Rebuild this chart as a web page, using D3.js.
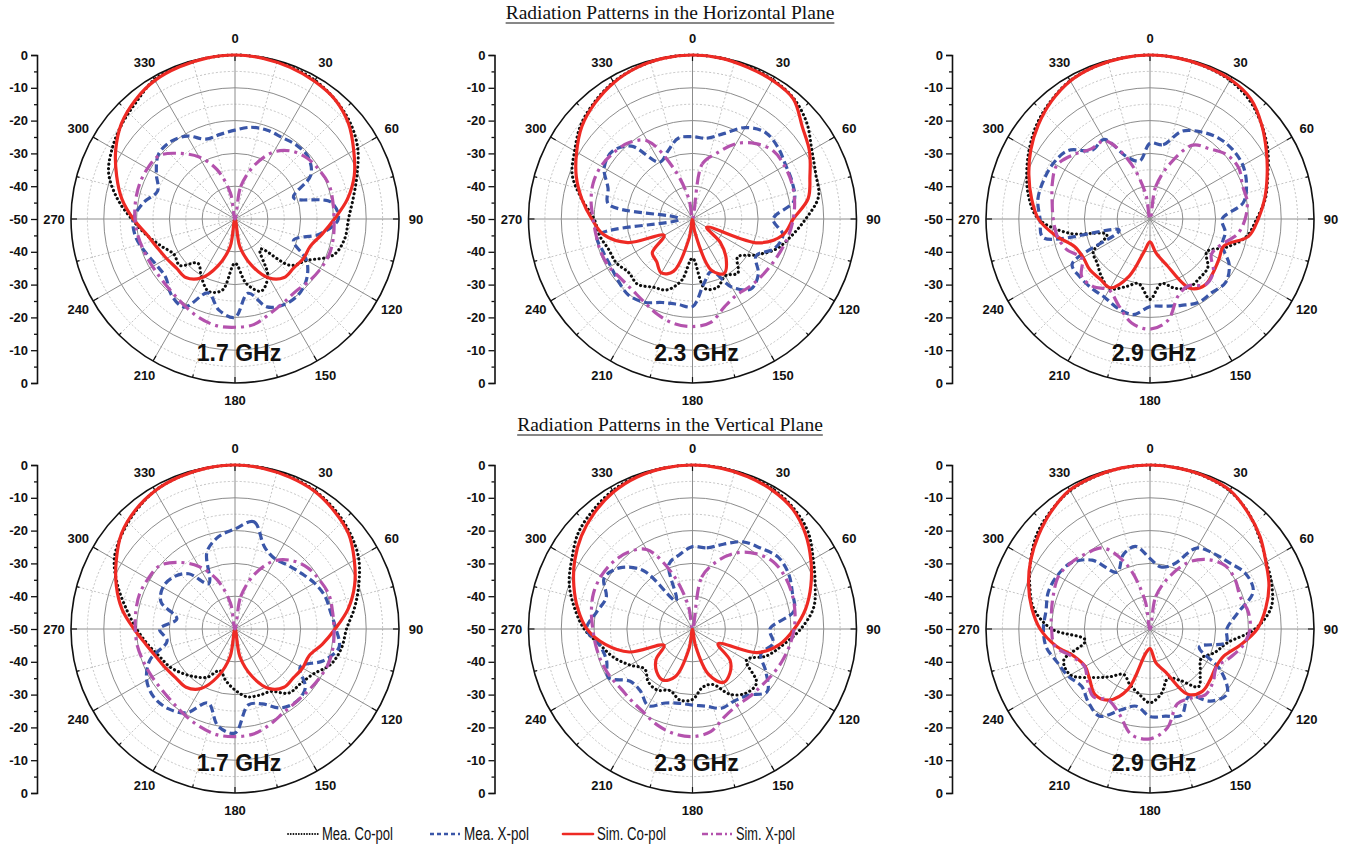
<!DOCTYPE html>
<html>
<head>
<meta charset="utf-8">
<script src="https://cdn.jsdelivr.net/npm/d3@7"></script>
<style>
  body { margin: 0; background: #fff; }
  svg text { font-family: Arial, "Liberation Sans", sans-serif; }
</style>
</head>
<body>
<svg id="chart" width="1351" height="849"></svg>
<script>
const angles = d3.range(0, 360, 10);

// ---- Horizontal plane ----
const h17MeaCo = [0,-0.2,-0.6,-1.2,-2.5,-4.2,-6.8,-10.4,-13.4,-15.4,-16,-18,-24.7,-28,-38,-30,-26.6,-30,-36.5,-28,-26.5,-29.5,-32.4,-28,-28.5,-26,-22.5,-18.5,-13.5,-9,-6.8,-5,-3.3,-0.9,-0.5,-0.2];
const h17MeaX  = [-22.9,-21.6,-21.2,-21.3,-20.7,-20.8,-23.3,-31,-20.3,-18.5,-23.7,-31,-24.8,-21.5,-19.9,-19.9,-21.5,-27,-20,-21.8,-26,-19,-19.8,-22.4,-22.2,-20.8,-19.2,-19,-21.6,-24.9,-22.3,-19.5,-19.3,-20.8,-24.1,-23.8];
const h17SimCo = [0,-0.3,-0.8,-1.5,-2.5,-4.8,-8.2,-11.3,-15.2,-19.7,-23.1,-25.6,-25.9,-26.7,-26.7,-29.2,-34.8,-41.4,-50,-41.4,-34.8,-29.2,-26.7,-26.7,-25.9,-24.7,-22.7,-19,-15,-11.6,-8,-4.8,-2.7,-1.2,-0.6,-0.2];
const h17SimX  = [-50,-40,-32.5,-26.4,-23,-21.2,-20.3,-19.5,-19.7,-19.8,-19.5,-19.3,-19.8,-20.5,-21.2,-20.5,-19.2,-17.3,-17,-17,-18,-19.4,-20.5,-21,-21,-20.6,-20,-19.5,-19.2,-19,-19.2,-19.9,-23.9,-28.2,-34,-42];

const h23MeaCo = [0,-0.2,-0.5,-1,-2,-4.5,-8,-10,-11,-15.5,-19.5,-23,-28,-32,-28.5,-30,-27.8,-28.5,-38,-31,-27,-26,-24,-24.6,-23.2,-22.8,-21.2,-20,-15.8,-11,-8.5,-5.5,-3.5,-1.8,-0.8,-0.2];
const h23MeaX  = [-24.9,-25,-22.3,-17.8,-15.5,-16,-17.2,-17.6,-18.6,-25.4,-22,-23.5,-27.6,-23.8,-22.2,-26,-33,-30,-23.3,-23.6,-22.9,-20.7,-19.7,-20.5,-21.2,-21,-20.6,-46,-24,-22.6,-18.9,-18,-21,-30,-28,-25];
const h23SimCo = [0,-0.2,-0.8,-1.2,-2.2,-6.3,-8.8,-11.9,-14.2,-19.3,-22,-28.7,-45,-39,-34,-30.8,-33.5,-46,-50,-44,-33,-31,-33,-34,-40,-29,-22.5,-19.3,-15.8,-12.3,-9.2,-6,-3.8,-2,-0.8,-0.2];
const h23SimX  = [-50,-33,-28.7,-23.5,-20,-17.8,-17.6,-17.8,-18.4,-19.3,-20.3,-21.4,-22.2,-22.7,-23,-23.2,-21.5,-18,-17.2,-17.6,-19,-20.7,-21.6,-21.6,-20.7,-20.3,-20.2,-19.7,-18.6,-17.8,-17.8,-18.6,-19.7,-22.5,-34,-44];

const h29MeaCo = [0,-0.2,-0.6,-1.2,-2.8,-5.5,-8.5,-11.8,-14.3,-17.5,-20,-25,-30,-27,-26.5,-26,-27.5,-30,-25.5,-30,-28,-25.5,-27,-29,-30,-36,-25,-16,-12.5,-10,-7.5,-5,-3,-1.3,-0.6,-0.2];
const h29MeaX  = [-26.9,-27,-21.5,-19.3,-17.7,-17.1,-17.3,-18.7,-21.1,-28,-26.7,-26.6,-22.1,-19.9,-20.7,-20.6,-22,-23,-23.3,-20.4,-21.1,-22.4,-22.4,-22.3,-22.6,-40,-17,-16.5,-15.3,-15.5,-16,-17.5,-22.6,-22,-30,-32];
const h29SimCo = [0,-0.2,-0.5,-0.9,-2.2,-5.5,-9,-12,-14.5,-17,-19.5,-26,-25.7,-24.8,-23.8,-25.6,-35,-39.5,-43,-40,-31.5,-25.8,-26.2,-26,-26.5,-25.5,-20.8,-16,-13.3,-10.7,-8,-5.5,-3.2,-1.4,-0.6,-0.2];
const h29SimX  = [-50,-40,-32,-24,-22,-19.5,-18.8,-20,-19.9,-21,-23,-27,-28.4,-24.8,-23.8,-26.5,-25,-18.6,-16.4,-17.8,-22,-25,-23.1,-22.8,-26,-22.9,-21.2,-20.5,-19.7,-18.3,-17.2,-19.5,-22.1,-22.5,-31,-42];

// ---- Vertical plane ----
const v17MeaCo = [0,-0.2,-0.6,-1.3,-2.6,-4.3,-6.5,-9.8,-13,-16,-17,-18.8,-22.5,-24,-24.5,-28,-28.5,-29,-31.4,-34,-36.5,-33,-31,-29,-27,-25.5,-23,-20,-16.5,-12,-7.5,-5,-3,-1.3,-0.6,-0.2];
const v17MeaX  = [-19.5,-16.8,-23.5,-25.4,-24.7,-23.6,-22,-20.8,-20.4,-19.2,-17.8,-21.5,-27,-22,-21,-22.2,-25.7,-26.5,-18.3,-20,-26,-20.5,-18.3,-17.7,-18.9,-22.4,-29,-27,-32,-26,-24.6,-25.4,-28,-34,-25,-21.4];
const v17SimCo = [0,-0.3,-0.8,-1.5,-3,-4.8,-8,-11.2,-15,-19.5,-23,-26,-26.2,-26.8,-26.8,-29,-34.5,-41.5,-50,-41.5,-34.5,-29,-26.8,-26.6,-25.8,-24.6,-22.5,-19.2,-15,-11.5,-8.2,-4.8,-2.7,-1.3,-0.6,-0.2];
const v17SimX  = [-50,-40,-32,-26,-22.8,-21,-20.2,-19.5,-19.8,-19.8,-19.6,-19.6,-20.2,-20.8,-21,-20.5,-19,-17.5,-17.2,-17.3,-18.4,-19.6,-20.6,-21,-20.8,-20.4,-19.8,-19.6,-19.3,-19,-19.4,-20,-23.5,-28,-34,-42];

const v23MeaCo = [0,-0.1,-0.4,-0.8,-2,-4,-7.5,-10.2,-12.5,-17,-22,-26,-31,-24.5,-24.5,-27,-32,-32,-28.5,-28,-30,-28.5,-29,-31,-28,-24.5,-21.5,-17,-13.5,-10,-7.5,-4.5,-2.8,-1.3,-0.5,-0.2];
const v23MeaX  = [-24.9,-24.9,-22.5,-19.3,-17.8,-15.9,-16.2,-17.6,-18.6,-26.4,-25,-27.8,-24.2,-20.3,-23.6,-24.6,-24.3,-26.1,-26.8,-27,-26,-23,-25.3,-25.2,-20.4,-22.1,-21.3,-17.7,-20.3,-22,-18.9,-21,-26.8,-40,-29,-27];
const v23SimCo = [0,-0.2,-0.6,-1.2,-2.4,-5,-8.3,-11.6,-15,-19,-23,-29,-41,-35,-32.3,-31.2,-35,-45,-50,-44,-34.5,-32,-33,-35.5,-40,-29.5,-23,-17.8,-14.5,-11.5,-8.5,-5.8,-3.6,-1.8,-0.7,-0.2];
const v23SimX  = [-50,-34,-28,-23.2,-20,-18,-17.6,-17.8,-18.3,-19,-20,-21,-22,-22.8,-23,-23,-21.5,-18.2,-17.2,-17.6,-18.8,-20.5,-21.3,-21.6,-21,-20.5,-20.1,-19.6,-18.7,-17.9,-17.8,-18.3,-19.5,-22,-32,-43];

const v29MeaCo = [0,-0.2,-0.6,-1.4,-3.5,-6.5,-9,-10.5,-12.5,-18,-26,-29,-32,-30,-27,-32,-34,-30,-27.5,-30,-32,-34,-31,-27,-22,-22,-30,-20,-14,-11,-8,-5,-3,-1.3,-0.6,-0.2];
const v29MeaX  = [-28.5,-30.8,-29,-21.5,-19.9,-18.5,-16.3,-16.5,-23,-26.6,-26.4,-34,-25.3,-19.3,-21.3,-26.3,-22,-23,-23.3,-26.1,-23.7,-19.3,-20.8,-22.8,-21.2,-20,-17.9,-17.5,-17.8,-17,-17.4,-18.6,-22.6,-30,-26,-24.4];
const v29SimCo = [0,-0.2,-0.5,-1.2,-3.6,-6.2,-9.2,-11.4,-14.2,-17.3,-22,-26,-26.8,-26,-25.2,-27,-36,-39.5,-44,-42.5,-30.5,-25,-23.9,-26,-27.2,-25.5,-20.8,-16.5,-13.4,-10.6,-8,-5.6,-3.2,-1.1,-0.5,-0.1];
const v29SimX  = [-50,-40,-33.2,-26.5,-22.4,-20,-20,-20.8,-19.6,-19.5,-21.2,-24.2,-26.6,-24.9,-23.8,-25.6,-25.7,-19.4,-16.5,-17.3,-22.5,-24.9,-23.1,-25.2,-27,-25,-20.5,-20,-19.5,-18.7,-17.8,-18.6,-19.9,-21.5,-29,-41];

const freqLabels = ["1.7 GHz", "2.3 GHz", "2.9 GHz"];
const planeTitles = ["Radiation Patterns in the Horizontal Plane", "Radiation Patterns in the Vertical Plane"];
const angleTicks = d3.range(0, 360, 30);
const dbRings = [-40, -30, -20, -10];
const dbHalfRings = [-45, -35, -25, -15, -5];
const seriesNames = ["Mea. Co-pol", "Mea. X-pol", "Sim. Co-pol", "Sim. X-pol"];

const rows = [
  [[h17MeaCo, h17MeaX, h17SimCo, h17SimX], [h23MeaCo, h23MeaX, h23SimCo, h23SimX], [h29MeaCo, h29MeaX, h29SimCo, h29SimX]],
  [[v17MeaCo, v17MeaX, v17SimCo, v17SimX], [v23MeaCo, v23MeaX, v23SimCo, v23SimX], [v29MeaCo, v29MeaX, v29SimCo, v29SimX]]
];

// styles per series, same order as seriesNames
const styles = [
  { color: "#0d0d0d", width: 3.1, dash: "0.1 4.4", cap: "round" },
  { color: "#3a56a8", width: 3.2, dash: "8 4", cap: "butt" },
  { color: "#ee2a24", width: 3.2, dash: null, cap: "round" },
  { color: "#b452ad", width: 3.2, dash: "13 5 3 5", cap: "butt" }
];

const svg = d3.select("#chart");
const R = 164;
const colX = [235, 692.5, 1150];
const rowY = [219, 629];

const r = d3.scaleLinear().domain([-50, 0]).range([0, R]);
const toRad = d => d * Math.PI / 180;

// titles
const titleY = [19, 431];
planeTitles.forEach((t, i) => {
  const txt = svg.append("text")
    .attr("x", 670).attr("y", titleY[i])
    .attr("text-anchor", "middle")
    .style("font-family", "'Times New Roman', 'Liberation Serif', serif")
    .style("font-size", "19.5px")
    .attr("fill", "#111")
    .text(t);
  const w = txt.node().getComputedTextLength();
  svg.append("line")
    .attr("x1", 670 - w / 2).attr("x2", 670 + w / 2)
    .attr("y1", titleY[i] + 4).attr("y2", titleY[i] + 4)
    .attr("stroke", "#111").attr("stroke-width", 1);
});

function drawPanel(cx, cy, data, label) {
  const g = svg.append("g").attr("transform", `translate(${cx},${cy})`);

  // dashed half rings
  g.selectAll(".hring").data(dbHalfRings).enter().append("circle")
    .attr("r", d => r(d)).attr("fill", "none")
    .attr("stroke", "#b5b5b5").attr("stroke-width", 0.8).attr("stroke-dasharray", "2 2");
  // solid rings
  g.selectAll(".ring").data(dbRings).enter().append("circle")
    .attr("r", d => r(d)).attr("fill", "none")
    .attr("stroke", "#8c8c8c").attr("stroke-width", 1);

  // spokes: dashed at 15, solid at 30
  g.selectAll(".mspoke").data(d3.range(15, 360, 30)).enter().append("line")
    .attr("x1", 0).attr("y1", 0)
    .attr("x2", d => R * Math.sin(toRad(d))).attr("y2", d => -R * Math.cos(toRad(d)))
    .attr("stroke", "#b5b5b5").attr("stroke-width", 0.8).attr("stroke-dasharray", "2 2");
  g.selectAll(".spoke").data(angleTicks).enter().append("line")
    .attr("x1", 0).attr("y1", 0)
    .attr("x2", d => R * Math.sin(toRad(d))).attr("y2", d => -R * Math.cos(toRad(d)))
    .attr("stroke", "#8c8c8c").attr("stroke-width", 1);

  // outer circle + inward ticks
  g.append("circle").attr("r", R).attr("fill", "none").attr("stroke", "#111").attr("stroke-width", 1.6);
  g.selectAll(".tick").data(d3.range(0, 360, 15)).enter().append("line")
    .attr("x1", d => R * Math.sin(toRad(d))).attr("y1", d => -R * Math.cos(toRad(d)))
    .attr("x2", d => (R - (d % 30 === 0 ? 6 : 3)) * Math.sin(toRad(d)))
    .attr("y2", d => -(R - (d % 30 === 0 ? 6 : 3)) * Math.cos(toRad(d)))
    .attr("stroke", "#111").attr("stroke-width", 1.2);

  // angle labels
  g.selectAll(".alab").data(angleTicks).enter().append("text")
    .attr("x", d => (R + 17) * Math.sin(toRad(d)))
    .attr("y", d => -(R + 17) * Math.cos(toRad(d)))
    .attr("text-anchor", "middle").attr("dominant-baseline", "central")
    .style("font-size", "13px").style("font-weight", "bold").attr("fill", "#111")
    .text(d => d);

  // patterns
  const line = d3.lineRadial()
    .angle((d, i) => toRad(angles[i]))
    .radius(d => r(Math.max(-50, d)))
    .curve(d3.curveCatmullRomClosed.alpha(0.5));

  data.forEach((vals, k) => {
    const s = styles[k];
    g.append("path")
      .datum(vals)
      .attr("d", line)
      .attr("fill", "none")
      .attr("stroke", s.color)
      .attr("stroke-width", s.width)
      .attr("stroke-linecap", s.cap)
      .attr("stroke-linejoin", "round")
      .attr("stroke-dasharray", s.dash);
  });

  // frequency label
  g.append("text")
    .attr("x", 4).attr("y", 142)
    .attr("text-anchor", "middle")
    .style("font-size", "23px").style("font-weight", "bold").attr("fill", "#111")
    .text(label);

  // left radial axis: 0 at top, -50 at centre, 0 at bottom
  const ax = cx - 198;
  const y = d3.scaleLinear().domain([0, 100]).range([cy - R, cy + R]);
  const axG = svg.append("g").attr("transform", `translate(${ax},0)`);
  axG.call(d3.axisLeft(y)
    .tickValues(d3.range(0, 101, 10))
    .tickSize(6).tickPadding(3)
    .tickFormat(d => String(-(50 - Math.abs(50 - d))).replace("-0", "0")));
  axG.append("g").call(d3.axisLeft(y)
    .tickValues(d3.range(5, 100, 10))
    .tickSize(3).tickFormat(""))
    .select(".domain").remove();
  axG.selectAll("path.domain").attr("stroke", "#111").attr("stroke-width", 1.6);
  axG.selectAll(".tick line").attr("stroke", "#111").attr("stroke-width", 1.3);
  axG.selectAll("text")
    .style("font-size", "13px").style("font-weight", "bold")
    .style("font-family", "Arial, 'Liberation Sans', sans-serif")
    .attr("fill", "#111");
}

rows.forEach((row, ri) => {
  row.forEach((data, ci) => drawPanel(colX[ci], rowY[ri], data, freqLabels[ci]));
});

// legend
const legX = [288, 430, 563, 702];
const legW = [71, 65, 69, 59];
const legY = 834;
seriesNames.forEach((name, k) => {
  const s = styles[k];
  svg.append("line")
    .attr("x1", legX[k]).attr("x2", legX[k] + 30)
    .attr("y1", legY).attr("y2", legY)
    .attr("stroke", s.color)
    .attr("stroke-width", k === 0 ? 1.8 : s.width - 0.6)
    .attr("stroke-linecap", s.cap)
    .attr("stroke-dasharray", k === 0 ? "0.1 2.6" : (k === 1 ? "4 3" : (k === 3 ? "6 3 2 3" : null)));
  svg.append("text")
    .attr("x", legX[k] + 34).attr("y", legY + 6)
    .attr("textLength", legW[k]).attr("lengthAdjust", "spacingAndGlyphs")
    .style("font-size", "17.5px").attr("fill", "#111")
    .text(name);
});
</script>
</body>
</html>
